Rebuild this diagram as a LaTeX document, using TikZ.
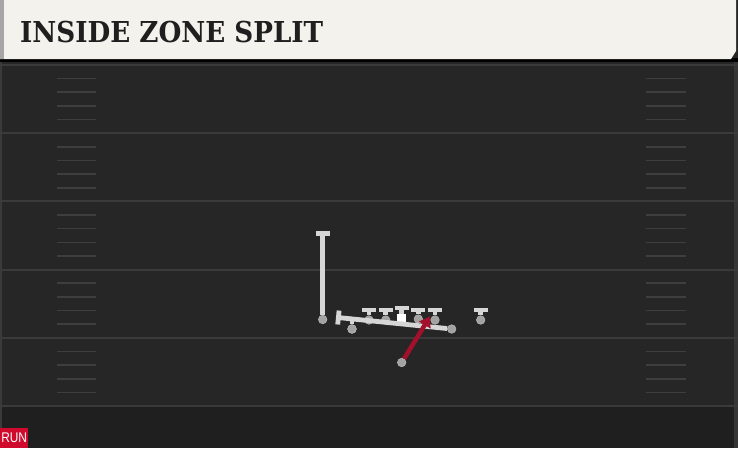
\documentclass[tikz,border=0pt]{standalone}
\usepackage{fontspec}
\newfontfamily\titlefont{DejaVu Serif}
\newfontfamily\tagfont{Liberation Sans}
\usetikzlibrary{arrows.meta}
\definecolor{fieldclr}{HTML}{262626}
\definecolor{endclr}{HTML}{1F1F1F}
\definecolor{lineclr}{HTML}{3A3A3A}
\definecolor{hashclr}{HTML}{3E3E3E}
\definecolor{headclr}{HTML}{F4F2EC}
\definecolor{routeclr}{HTML}{D6D6D6}
\definecolor{dotclr}{HTML}{A2A2A2}
\definecolor{runclr}{HTML}{A3102B}
\definecolor{tagclr}{HTML}{CF0A2C}
\tikzset{
    yardline/.style={draw=lineclr,line width=2pt},
    hashmark/.style={draw=hashclr,line width=1.6pt},
    player/.style={circle,fill=dotclr,draw=dotclr!80!white,line width=0.6pt,inner sep=0pt,minimum size=8.5pt},
    centre/.style={rectangle,fill=white,inner sep=0pt,minimum size=9pt},
    block/.style={draw=routeclr,line width=4.8pt,-{Bar[width=14pt,line width=4.8pt]}},
    runpath/.style={draw=runclr,line width=4.5pt,-{Triangle[length=10pt,width=13pt]}}
}
\begin{document}
\begin{tikzpicture}[x=1pt,y=-1pt]
    \useasboundingbox (0,0) rectangle (738,448);
    % field
    \fill[fieldclr] (0,0) rectangle (738,448);
    \fill[endclr] (0,406) rectangle (738,448);
    \fill[lineclr!80!fieldclr] (734,60) rectangle (738,448);
    \draw[lineclr,line width=1.5pt] (1,60) -- (1,448);
    \foreach \y in {65,133.2,201.4,269.6,337.8,406}
        \draw[yardline] (0,\y) -- (738,\y);
    \foreach \k in {1,...,24} {
        \pgfmathtruncatemacro{\r}{mod(\k,5)}
        \ifnum\r>0
            \draw[hashmark] (57,65+13.64*\k) -- (96,65+13.64*\k);
            \draw[hashmark] (646,65+13.64*\k) -- (686,65+13.64*\k);
        \fi
    }
    % header
    \fill[black] (0,58) rectangle (738,62);
    \fill[headclr] (0,0) -- (736,0) -- (736,51) -- (731,59) -- (0,59) -- cycle;
    \fill[gray!70] (0,0) rectangle (4,59);
    \node[anchor=base west,inner sep=0pt,font=\titlefont\bfseries\fontsize{28.8}{30}\selectfont,
        text=black!88,xscale=0.91] (title) at (20,42.5) {INSIDE ZONE SPLIT};
    % tag
    \node[fill=tagclr,text=white,anchor=north west,minimum width=28pt,minimum height=20.5pt,
        inner sep=0pt,font=\tagfont\fontsize{14}{14}\selectfont] (tag) at (0,427.5) {\scalebox{0.85}[1]{RUN}};
    % players
    \begin{scope}[every node/.style={player}]
        \node (wl)  at (322.7,319.5) {};
        \node (te)  at (352,329) {};
        \node (lt)  at (369,320) {};
        \node (lg)  at (385.7,320) {};
        \node (rg)  at (418.3,319) {};
        \node (rt)  at (435,320) {};
        \node (wr)  at (480.7,320) {};
        \node (rb)  at (401.7,362.5) {};
    \end{scope}
    \node[centre] (c) at (401.7,318.5) {};
    \coordinate (wlT) at (322.7,231);
    \coordinate (teT) at (352,318.5);
    \coordinate (ltT) at (369,307.5);
    \coordinate (lgT) at (385.7,307.5);
    \coordinate (cT)  at (401.7,305.5);
    \coordinate (rgT) at (418.3,307.5);
    \coordinate (rtT) at (435,307.5);
    \coordinate (wrT) at (480.7,307.5);
    \coordinate (hbT) at (336,317.3);
    \coordinate (hit) at (430,316.5);
    \begin{scope}[every edge/.style={block}]
        \path
            (wl) edge (wlT)
            (lt) edge (ltT)
            (lg) edge (lgT)
            (c)  edge (cT)
            (rg) edge (rgT)
            (rt) edge (rtT)
            (wr) edge (wrT);
    \end{scope}
    \node[player] (hb) at (451.7,329) {};
    \path (hb) edge[block] (hbT);
    \draw[routeclr,line width=4.8pt] (te) -- (teT);
    \node[player] at (te) {};
    \draw[runpath] (rb) -- (hit);
\end{tikzpicture}
\end{document}
